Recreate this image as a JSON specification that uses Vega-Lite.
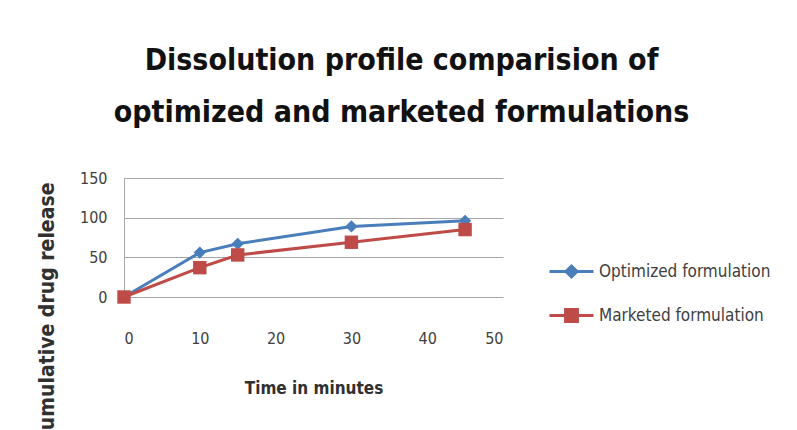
{
  "$schema": "https://vega.github.io/schema/vega-lite/v6.json",
  "autosize": "none",
  "width": 379,
  "height": 119,
  "padding": {"left": 124, "top": 178, "right": 294, "bottom": 133},
  "background": "white",
  "config": {
    "font": "'DejaVu Sans Condensed', Lato, sans-serif",
    "view": {"stroke": null}
  },
  "title": {
    "text": ["Dissolution profile comparision of", "optimized and marketed formulations"],
    "fontSize": 30,
    "fontWeight": "bold",
    "font": "'DejaVu Sans Condensed', Lato, sans-serif",
    "color": "#111111",
    "lineHeight": 52,
    "anchor": "middle",
    "baseline": "alphabetic",
    "offset": 18,
    "dx": 88
  },
  "data": {
    "values": [
      {"time": 0, "release": 0, "series": "Optimized formulation"},
      {"time": 10, "release": 56, "series": "Optimized formulation"},
      {"time": 15, "release": 67, "series": "Optimized formulation"},
      {"time": 30, "release": 89, "series": "Optimized formulation"},
      {"time": 45, "release": 96, "series": "Optimized formulation"},
      {"time": 0, "release": 0, "series": "Marketed formulation"},
      {"time": 10, "release": 37, "series": "Marketed formulation"},
      {"time": 15, "release": 53, "series": "Marketed formulation"},
      {"time": 30, "release": 69, "series": "Marketed formulation"},
      {"time": 45, "release": 85, "series": "Marketed formulation"}
    ]
  },
  "encoding": {
    "x": {
      "field": "time",
      "type": "quantitative",
      "scale": {"domain": [0, 50], "nice": false},
      "axis": {
        "title": "Time in minutes",
        "values": [0, 10, 20, 30, 40, 50],
        "grid": false,
        "domain": false,
        "ticks": false,
        "labelFontSize": 16,
        "labelColor": "#404040",
        "labelPadding": 33,
        "titleFontSize": 17,
        "titleFontWeight": "bold",
        "titleColor": "#303030",
        "titlePadding": 34
      }
    },
    "y": {
      "field": "release",
      "type": "quantitative",
      "scale": {"domain": [0, 150], "nice": false},
      "axis": {
        "title": "% Cumulative drug release",
        "values": [0, 50, 100, 150],
        "grid": true,
        "gridColor": "#a6a6a6",
        "gridWidth": 1,
        "domain": true,
        "domainColor": "#a6a6a6",
        "ticks": false,
        "labelFontSize": 16,
        "labelColor": "#404040",
        "labelPadding": 17,
        "titleFontSize": 21,
        "titleFontWeight": "bold",
        "titleColor": "#303030",
        "titleAngle": 270,
        "titleAlign": "right",
        "titleBaseline": "middle",
        "titleX": -77,
        "titleY": 4
      }
    },
    "color": {
      "field": "series",
      "type": "nominal",
      "scale": {
        "domain": ["Optimized formulation", "Marketed formulation"],
        "range": ["#4a7ebb", "#be4b48"]
      },
      "legend": {
        "title": null,
        "orient": "none",
        "legendX": 424,
        "legendY": 70,
        "labelFontSize": 17,
        "labelColor": "#404040",
        "labelOffset": 4,
        "labelLimit": 300,
        "rowPadding": 9,
        "symbolSize": 1936,
        "symbolStrokeWidth": 3,
        "encode": {
          "symbols": {
            "update": {
              "shape": {"signal": "datum.value === 'Optimized formulation' ? 'M-1,0H1M0,-0.25L0.25,0L0,0.25L-0.25,0Z' : 'M-1,0H1M-0.27,-0.27H0.27V0.27H-0.27Z'"},
              "fill": {"scale": "color", "field": "value"},
              "stroke": {"scale": "color", "field": "value"},
              "strokeWidth": {"value": 3},
              "opacity": {"value": 1}
            }
          }
        }
      }
    }
  },
  "layer": [
    {
      "mark": {"type": "line", "strokeWidth": 3}
    },
    {
      "mark": {"type": "point", "filled": true, "opacity": 1},
      "encoding": {
        "shape": {
          "condition": {"test": "datum.series === 'Marketed formulation'", "value": "square"},
          "value": "diamond"
        },
        "size": {
          "condition": {"test": "datum.series === 'Marketed formulation'", "value": 180},
          "value": 150
        }
      }
    }
  ]
}
